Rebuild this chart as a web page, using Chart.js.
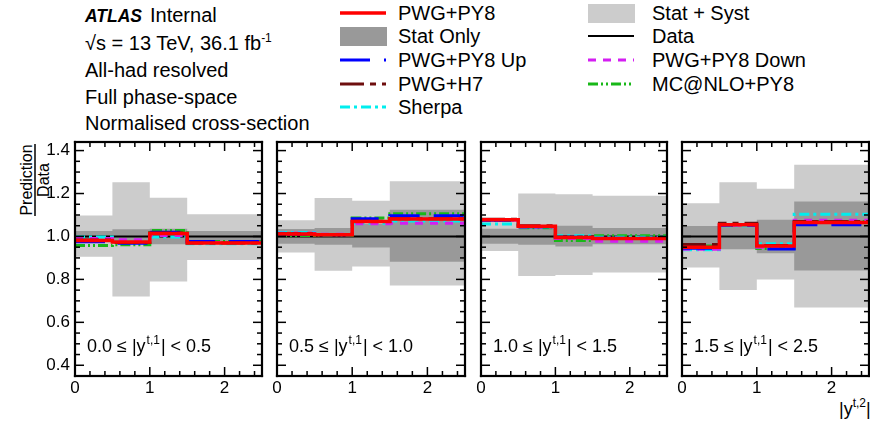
<!DOCTYPE html>
<html>
<head>
<meta charset="utf-8">
<script src="https://cdn.jsdelivr.net/npm/chart.js@4.4.1/dist/chart.umd.min.js"></script>
<style>
  body { margin:0; background:#fff; width:870px; height:429px; overflow:hidden; position:relative;
         font-family:"Liberation Sans", Arial, Helvetica, sans-serif; color:#000; }
  .t { position:absolute; font-size:20px; line-height:20px; white-space:nowrap; }
  .lg { position:absolute; }
  canvas { position:absolute; }
  sup { font-size:12px; vertical-align:8px; line-height:0; }
  #err { position:absolute; left:300px; top:0px; color:#f00; font-size:10px; }
</style>
</head>
<body>

<!-- header block -->
<div class="t" style="left:85px;top:6px;font-size:17.5px;"><b><i>ATLAS</i></b></div>
<div class="t" style="left:150px;top:5px;">Internal</div>
<div class="t" style="left:85px;top:33px;">&radic;s = 13 TeV, 36.1 fb<sup>-1</sup></div>
<div class="t" style="left:85px;top:60px;">All-had resolved</div>
<div class="t" style="left:85px;top:87px;">Full phase-space</div>
<div class="t" style="left:85px;top:113px;">Normalised cross-section</div>

<!-- legend -->
<svg class="lg" style="left:0;top:0" width="870" height="130" id="legendSvg"></svg>
<div class="t" style="left:398px;top:3px;">PWG+PY8</div>
<div class="t" style="left:398px;top:26px;">Stat Only</div>
<div class="t" style="left:398px;top:50px;">PWG+PY8 Up</div>
<div class="t" style="left:398px;top:74px;">PWG+H7</div>
<div class="t" style="left:398px;top:97px;">Sherpa</div>
<div class="t" style="left:652px;top:3px;">Stat + Syst</div>
<div class="t" style="left:652px;top:26px;">Data</div>
<div class="t" style="left:652px;top:50px;">PWG+PY8 Down</div>
<div class="t" style="left:652px;top:74px;">MC@NLO+PY8</div>

<!-- y axis title: Prediction / Data -->
<svg class="lg" style="left:0;top:130px" width="60" height="100">
  <g font-family="Liberation Sans, Arial, sans-serif" font-size="16" text-anchor="middle">
    <text transform="translate(32,50) rotate(-90)">Prediction</text>
    <line x1="35" y1="14" x2="35" y2="86" stroke="#000" stroke-width="1.5"/>
    <text transform="translate(49,50) rotate(-90)">Data</text>
  </g>
</svg>

<!-- x axis title -->
<div class="t" style="left:839px;top:399px;font-size:18px;">|y<sup>t,2</sup>|</div>

<canvas id="p0" width="266" height="299" style="left:0px;top:130px"></canvas>
<canvas id="p1" width="202" height="299" style="left:267px;top:130px"></canvas>
<canvas id="p2" width="200" height="299" style="left:471px;top:130px"></canvas>
<canvas id="p3" width="198" height="299" style="left:672px;top:130px"></canvas>
<div id="err"></div>

<script>
// Bin edges in |y^{t,2}| shared by all four |y^{t,1}| slices
const binEdges = [0, 0.5, 1.0, 1.5, 2.5];
const sliceLow  = ["0.0", "0.5", "1.0", "1.5"];
const sliceHigh = ["0.5", "1.0", "1.5", "2.5"];
const yTickValues = [0.4, 0.6, 0.8, 1.0, 1.2, 1.4];
const xTickValues = [0, 1, 2];

// Ratio to data, one row per |y^{t,1}| slice, one entry per |y^{t,2}| bin
const dataRatio = [
  [1, 1, 1, 1], [1, 1, 1, 1], [1, 1, 1, 1], [1, 1, 1, 1]
];
const statSystHigh = [
  [1.098, 1.252, 1.180, 1.104],
  [1.075, 1.179, 1.166, 1.257],
  [1.068, 1.200, 1.197, 1.190],
  [1.155, 1.252, 1.222, 1.334]
];
const statSystLow = [
  [0.905, 0.720, 0.790, 0.890],
  [0.925, 0.840, 0.860, 0.771],
  [0.932, 0.816, 0.821, 0.832],
  [0.855, 0.751, 0.800, 0.669]
];
const statHigh = [
  [1.026, 1.033, 1.036, 1.026],
  [1.035, 1.039, 1.058, 1.124],
  [1.036, 1.039, 1.050, 1.039],
  [1.049, 1.060, 1.078, 1.163]
];
const statLow = [
  [0.974, 0.967, 0.964, 0.974],
  [0.966, 0.961, 0.949, 0.882],
  [0.966, 0.961, 0.953, 0.964],
  [0.951, 0.940, 0.922, 0.841]
];
const pwgPy8 = [
  [0.981, 0.974, 1.014, 0.969],
  [1.012, 1.008, 1.070, 1.081],
  [1.078, 1.047, 0.995, 0.990],
  [0.950, 1.054, 0.956, 1.065]
];
const pwgPy8Up = [
  [0.975, 0.968, 1.020, 0.977],
  [1.010, 1.008, 1.082, 1.096],
  [1.075, 1.045, 0.996, 0.992],
  [0.945, 1.052, 0.942, 1.054]
];
const pwgPy8Down = [
  [0.990, 0.985, 1.005, 0.972],
  [1.015, 1.010, 1.059, 1.061],
  [1.075, 1.044, 0.990, 0.978],
  [0.940, 1.052, 0.950, 1.075]
];
const pwgH7 = [
  [0.983, 0.972, 1.016, 0.970],
  [1.013, 1.009, 1.071, 1.082],
  [1.080, 1.050, 0.997, 0.990],
  [0.962, 1.062, 0.958, 1.070]
];
const sherpa = [
  [0.997, 0.975, 0.998, 0.966],
  [1.019, 1.009, 1.062, 1.072],
  [1.058, 1.045, 1.003, 0.996],
  [0.938, 1.050, 0.966, 1.104]
];
const mcnloPy8 = [
  [0.958, 0.961, 1.028, 0.977],
  [1.004, 1.006, 1.086, 1.106],
  [1.075, 1.040, 0.981, 1.003],
  [0.955, 1.055, 0.944, 1.070]
];

// Line styles for the predictions
const styles = {
  red:     { color: '#ff0000', width: 3.5, dash: [] },
  blue:    { color: '#0000ff', width: 3,   dash: [30, 14] },
  magenta: { color: '#d41ef2', width: 3,   dash: [8, 7] },
  brown:   { color: '#6e0e0e', width: 3,   dash: [24, 6, 6, 6] },
  cyan:    { color: '#00eeee', width: 3,   dash: [10, 4, 3, 4] },
  green:   { color: '#18b818', width: 3,   dash: [10, 3, 2, 3, 2, 3] },
  black:   { color: '#000000', width: 2,   dash: [] }
};
const lightGrey = '#cccccc';
const darkGrey = '#999999';
const SVG_NS = 'http://www.w3.org/2000/svg';

// Histogram outline: one point per lower bin edge plus the last upper edge
function steps(vals) {
  const pts = vals.map((v, i) => ({ x: binEdges[i], y: v }));
  pts.push({ x: binEdges[binEdges.length - 1], y: vals[vals.length - 1] });
  return pts;
}

function lineSet(vals, st, order) {
  return {
    data: steps(vals), stepped: 'before', fill: false,
    borderColor: st.color, borderWidth: st.width, borderDash: st.dash,
    pointRadius: 0, order: order, borderCapStyle: 'butt'
  };
}
function bandSet(vals, color, fillTo, order) {
  return {
    data: steps(vals), stepped: 'before', fill: fillTo,
    backgroundColor: color, borderWidth: 0, borderColor: 'rgba(0,0,0,0)',
    pointRadius: 0, order: order
  };
}

function isMajor(v, list) { return list.some(t => Math.abs(t - v) < 1e-6); }

// Frame with inward major/minor ticks on all four sides, placed from the chart's own scales
function addFrameOverlay(chart, canvasEl) {
  const a = chart.chartArea;
  const xs = chart.scales.x, ys = chart.scales.y;
  const svgFrame = document.createElementNS(SVG_NS, 'svg');
  svgFrame.setAttribute('width', canvasEl.width);
  svgFrame.setAttribute('height', canvasEl.height);
  svgFrame.style.position = 'absolute';
  svgFrame.style.left = canvasEl.style.left;
  svgFrame.style.top = canvasEl.style.top;
  svgFrame.style.pointerEvents = 'none';
  const box = (x, y, w, h) => {
    const r = document.createElementNS(SVG_NS, 'rect');
    r.setAttribute('x', x); r.setAttribute('y', y);
    r.setAttribute('width', w); r.setAttribute('height', h);
    r.setAttribute('fill', '#000');
    svgFrame.appendChild(r);
  };
  const tw = 1.5;
  for (let i = 0; i <= 12; i++) {
    const v = i * 0.2;
    const px = xs.getPixelForValue(v);
    const len = isMajor(v, xTickValues) ? 9 : 5;
    box(px - tw / 2, a.bottom - len, tw, len);
    box(px - tw / 2, a.top, tw, len);
  }
  for (let i = 0; i <= 21; i++) {
    const v = 0.35 + i * 0.05;
    const py = ys.getPixelForValue(v);
    const len = isMajor(v, yTickValues) ? 9 : 5;
    box(a.left, py - tw / 2, len, tw);
    box(a.right - len, py - tw / 2, len, tw);
  }
  const b = 2.2, w = a.right - a.left, h = a.bottom - a.top;
  box(a.left - b / 2, a.top - b / 2, w + b, b);
  box(a.left - b / 2, a.bottom - b / 2, w + b, b);
  box(a.left - b / 2, a.top - b / 2, b, h + b);
  box(a.right - b / 2, a.top - b / 2, b, h + b);
  document.body.appendChild(svgFrame);
}

// Slice label "lo <= |y^{t,1}| < hi" in the lower left of each panel
function drawSliceLabel(chart, lo, hi) {
  const ctx = chart.ctx;
  const a = chart.chartArea;
  ctx.save();
  ctx.fillStyle = '#000';
  ctx.textBaseline = 'alphabetic';
  ctx.textAlign = 'left';
  const big = '18px "Liberation Sans", Arial, sans-serif';
  const small = '12px "Liberation Sans", Arial, sans-serif';
  let xp = a.left + 12;
  const yb = a.bottom - 24;
  ctx.font = big;
  const s1 = lo + ' \u2264 |y';
  ctx.fillText(s1, xp, yb); xp += ctx.measureText(s1).width + 1;
  ctx.font = small;
  ctx.fillText('t,1', xp, yb - 8); xp += ctx.measureText('t,1').width + 1;
  ctx.font = big;
  ctx.fillText('| < ' + hi, xp, yb);
  ctx.restore();
}

const yAxisWidth = [75, 10, 10, 10];
const errBox = document.getElementById('err');

for (let p = 0; p < 4; p++) {
  const datasets = [
    lineSet(pwgPy8[p], styles.red, 0),
    lineSet(pwgH7[p], styles.brown, 1),
    lineSet(pwgPy8Up[p], styles.blue, 2),
    lineSet(pwgPy8Down[p], styles.magenta, 3),
    lineSet(sherpa[p], styles.cyan, 4),
    lineSet(mcnloPy8[p], styles.green, 5),
    lineSet(dataRatio[p], styles.black, 6),
    bandSet(statHigh[p], darkGrey, '+1', 10),
    bandSet(statLow[p], darkGrey, false, 11),
    bandSet(statSystHigh[p], lightGrey, '+1', 20),
    bandSet(statSystLow[p], lightGrey, false, 21)
  ];
  const yw = yAxisWidth[p];
  const canvasEl = document.getElementById('p' + p);
  const panelPlugin = {
    id: 'panelDecor' + p,
    afterDraw(chart) {
      try { drawSliceLabel(chart, sliceLow[p], sliceHigh[p]); } catch (e) { errBox.textContent += ' L' + p + ':' + e.message; }
    }
  };
  try {
    const chart = new Chart(canvasEl, {
      type: 'line',
      data: { datasets },
      plugins: [panelPlugin],
      options: {
        responsive: false, animation: false, devicePixelRatio: 1,
        layout: { padding: { top: 12, right: p === 3 ? 1 : 4, left: 0, bottom: 0 } },
        plugins: { legend: { display: false }, tooltip: { enabled: false } },
        scales: {
          x: {
            type: 'linear', min: 0, max: 2.5,
            grid: { display: false, drawTicks: false }, border: { display: false },
            afterBuildTicks: s => { s.ticks = xTickValues.map(v => ({ value: v })); },
            afterFit: s => { s.height = 53; s.paddingLeft = 0; s.paddingRight = 0; },
            ticks: { color: '#000', padding: 2, maxRotation: 0,
                     font: { size: 17, family: '"Liberation Sans", Arial, sans-serif' },
                     callback: v => String(v) }
          },
          y: {
            type: 'linear', min: 0.35, max: 1.44,
            grid: { display: false, drawTicks: false }, border: { display: false },
            afterBuildTicks: s => { s.ticks = yTickValues.map(v => ({ value: v })); },
            afterFit: s => { s.width = yw; s.paddingTop = 0; s.paddingBottom = 0; },
            ticks: { display: p === 0, color: '#000', padding: 5,
                     font: { size: 17, family: '"Liberation Sans", Arial, sans-serif' },
                     callback: v => v.toFixed(1) }
          }
        }
      }
    });
    addFrameOverlay(chart, canvasEl);
  } catch (e) { errBox.textContent += ' C' + p + ':' + e.message; }
}

// Legend samples
const svg = document.getElementById('legendSvg');
function svgEl(tag, attrs) {
  const e = document.createElementNS(SVG_NS, tag);
  for (const k in attrs) e.setAttribute(k, attrs[k]);
  svg.appendChild(e);
}
function legendLine(x0, yc, st) {
  svgEl('line', { x1: x0, y1: yc, x2: x0 + 46, y2: yc, stroke: st.color,
                  'stroke-width': st.width, 'stroke-dasharray': st.dash.length ? st.dash.join(' ') : 'none' });
}
legendLine(340, 13, styles.red);
svgEl('rect', { x: 340, y: 27, width: 47, height: 19, fill: darkGrey });
legendLine(340, 60, styles.blue);
legendLine(340, 84, styles.brown);
legendLine(340, 107, styles.cyan);
svgEl('rect', { x: 588, y: 4, width: 47, height: 19, fill: lightGrey });
legendLine(588, 36, styles.black);
legendLine(588, 60, styles.magenta);
legendLine(588, 84, styles.green);
</script>
</body>
</html>
